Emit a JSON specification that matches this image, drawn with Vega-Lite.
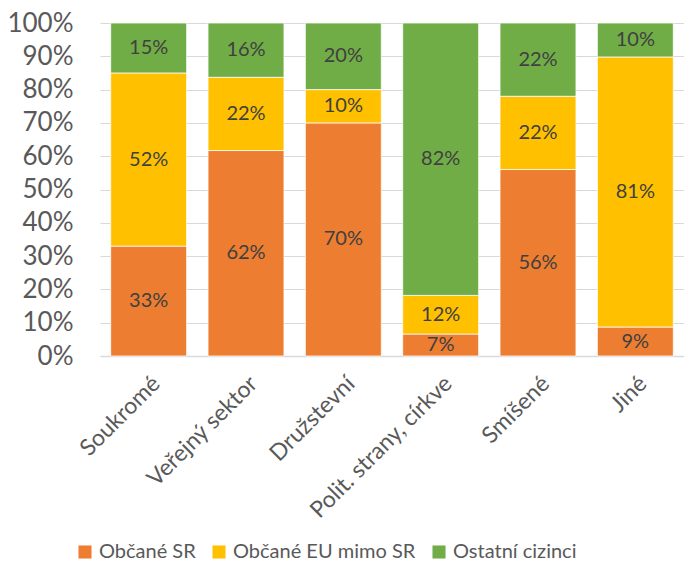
{
  "$schema": "https://vega.github.io/schema/vega-lite/v6.json",
  "width": 584,
  "height": 333,
  "autosize": "none",
  "padding": {"left": 100, "top": 23, "right": 0, "bottom": 217},
  "background": "white",
  "config": {
    "font": "Lato",
    "view": {"stroke": null},
    "axisY": {
      "title": null,
      "format": ".0%",
      "values": [0, 0.1, 0.2, 0.3, 0.4, 0.5, 0.6, 0.7, 0.8, 0.9, 1],
      "labelOverlap": false,
      "labelFontSize": 26,
      "labelColor": "#595959",
      "labelPadding": 27,
      "ticks": false,
      "domain": false,
      "grid": true,
      "gridColor": "#d9d9d9",
      "gridWidth": 1.2
    }
  },
  "data": {
    "values": [
      {"cat": "Soukromé", "group": "Občané SR", "ord": 1, "value": 0.33},
      {"cat": "Soukromé", "group": "Občané EU mimo SR", "ord": 2, "value": 0.52},
      {"cat": "Soukromé", "group": "Ostatní cizinci", "ord": 3, "value": 0.15},
      {"cat": "Veřejný sektor", "group": "Občané SR", "ord": 1, "value": 0.617},
      {"cat": "Veřejný sektor", "group": "Občané EU mimo SR", "ord": 2, "value": 0.22},
      {"cat": "Veřejný sektor", "group": "Ostatní cizinci", "ord": 3, "value": 0.163},
      {"cat": "Družstevní", "group": "Občané SR", "ord": 1, "value": 0.70},
      {"cat": "Družstevní", "group": "Občané EU mimo SR", "ord": 2, "value": 0.10},
      {"cat": "Družstevní", "group": "Ostatní cizinci", "ord": 3, "value": 0.20},
      {"cat": "Polit. strany, církve", "group": "Občané SR", "ord": 1, "value": 0.066},
      {"cat": "Polit. strany, církve", "group": "Občané EU mimo SR", "ord": 2, "value": 0.116},
      {"cat": "Polit. strany, církve", "group": "Ostatní cizinci", "ord": 3, "value": 0.818},
      {"cat": "Smíšené", "group": "Občané SR", "ord": 1, "value": 0.56},
      {"cat": "Smíšené", "group": "Občané EU mimo SR", "ord": 2, "value": 0.22},
      {"cat": "Smíšené", "group": "Ostatní cizinci", "ord": 3, "value": 0.22},
      {"cat": "Jiné", "group": "Občané SR", "ord": 1, "value": 0.087},
      {"cat": "Jiné", "group": "Občané EU mimo SR", "ord": 2, "value": 0.811},
      {"cat": "Jiné", "group": "Ostatní cizinci", "ord": 3, "value": 0.102}
    ]
  },
  "transform": [
    {"stack": "value", "groupby": ["cat"], "sort": [{"field": "ord"}], "offset": "normalize", "as": ["y0", "y1"]},
    {"calculate": "(datum.y0 + datum.y1) / 2", "as": "ymid"}
  ],
  "encoding": {
    "x": {
      "field": "cat",
      "type": "nominal",
      "sort": ["Soukromé", "Veřejný sektor", "Družstevní", "Polit. strany, církve", "Smíšené", "Jiné"],
      "scale": {"paddingInner": 0.22, "paddingOuter": 0.11},
      "axis": {
        "title": null,
        "labelAngle": -45,
        "labelFontSize": 23,
        "labelColor": "#595959",
        "labelPadding": 16,
        "labelDx": -7,
        "labelLimit": 400,
        "ticks": false,
        "domainColor": "#d9d9d9",
        "domainWidth": 1.5,
        "grid": false
      }
    }
  },
  "layer": [
    {
      "mark": {"type": "bar", "stroke": "white", "strokeWidth": 0.75},
      "encoding": {
        "y": {
          "field": "y0",
          "type": "quantitative",
          "scale": {"domain": [0, 1]}
        },
        "y2": {"field": "y1"},
        "color": {
          "field": "group",
          "type": "nominal",
          "sort": ["Občané SR", "Občané EU mimo SR", "Ostatní cizinci"],
          "scale": {
            "domain": ["Občané SR", "Občané EU mimo SR", "Ostatní cizinci"],
            "range": ["#ED7D31", "#FFC000", "#70AD47"]
          },
          "legend": {
            "title": null,
            "orient": "none",
            "direction": "horizontal",
            "legendX": -25,
            "legendY": 519,
            "symbolType": "square",
            "symbolSize": 170,
            "symbolStrokeWidth": 0,
            "labelFontSize": 20,
            "labelLimit": 400,
            "labelColor": "#595959",
            "labelOffset": 4,
            "columnPadding": 13
          }
        }
      }
    },
    {
      "mark": {"type": "text", "fontSize": 20, "color": "#404040"},
      "encoding": {
        "y": {"field": "ymid", "type": "quantitative"},
        "text": {"field": "value", "type": "quantitative", "format": ".0%"}
      }
    }
  ]
}
